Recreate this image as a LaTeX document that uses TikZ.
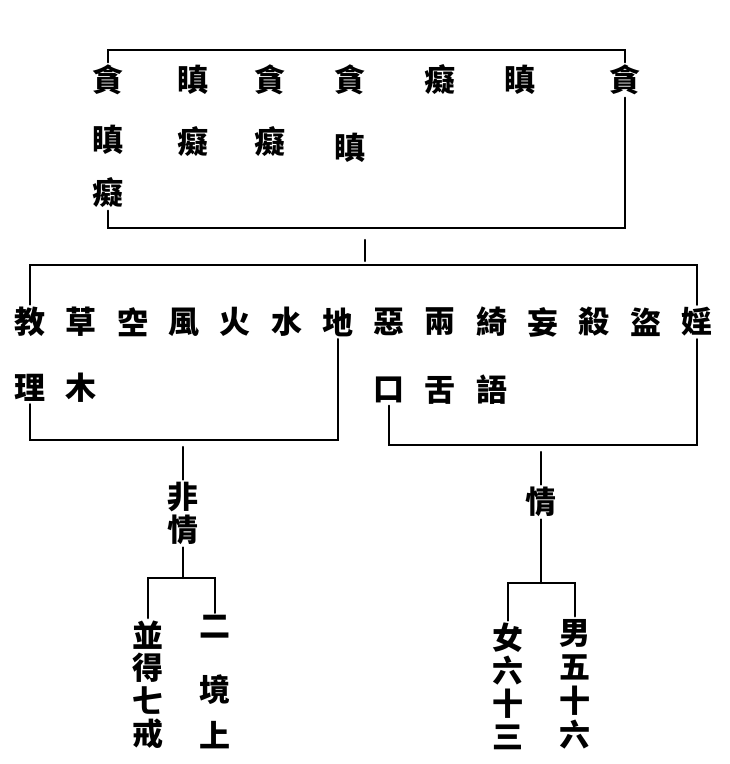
\documentclass[tikz,border=0pt]{standalone}
\usepackage{fontspec}
\newfontfamily\cjk{Noto Sans CJK TC}
\usetikzlibrary{positioning}

\begin{document}
\begin{tikzpicture}[%
        x = 1pt, y = -1pt,
        line width = 2.2pt,
        line cap = round,
        word/.style = {font = \cjk\bfseries\fontsize{31}{31}\selectfont, inner sep = 1.5pt}
    ]
        \useasboundingbox (0, 0) rectangle (730, 764);

        % Heights of the horizontal bars.
        \coordinate (topbar) at (0, 50);
        \coordinate (botbar) at (0, 228);
        \coordinate (midbar) at (0, 265);
        \coordinate (leftbar) at (0, 440);
        \coordinate (rightbar) at (0, 445);
        \coordinate (noubar) at (0, 578);
        \coordinate (usbar) at (0, 583);

        % Top block, the three poisons.
        \node[word] (g1) at (108, 80) {貪};
        \node[word] (g2) at (193, 80) {瞋};
        \node[word] (g3) at (270, 80) {貪};
        \node[word] (g4) at (350, 80) {貪};
        \node[word] (g5) at (440, 80) {癡};
        \node[word] (g6) at (520, 80) {瞋};
        \node[word] (g7) at (625, 80) {貪};
        \node[word] (h1) at (108, 140) {瞋};
        \node[word] (h2) at (193, 142) {癡};
        \node[word] (h3) at (270, 142) {癡};
        \node[word] (h4) at (350, 148) {瞋};
        \node[word] (k1) at (108, 193) {癡};

        \draw (g1.north) -- (g1.north |- topbar) -- (g7.north |- topbar) -- (g7.north);
        \draw (k1.south) -- (k1.south |- botbar) -- (g7.south |- botbar) -- (g7.south);

        % Short stroke between the two blocks.
        \coordinate (tick a) at (365, 240);
        \coordinate (tick b) at (365, 261);
        \draw (tick a) -- (tick b);

        % Middle block, the objects.
        \foreach \ch [count = \i] in {教,草,空,風,火,水,地,惡,兩,綺,妄,殺,盜,婬}
            \node[word] (m\i) at (30 + 51.3*\i - 51.3, 322) {\ch};
        \node[word] (n1) at (30, 388) {理};
        \node[word] (n2) at (81, 388) {木};
        \node[word] (n8) at (389, 390) {口};
        \node[word] (n9) at (440, 390) {舌};
        \node[word] (n10) at (492, 390) {語};

        \draw (m1.north) -- (m1.north |- midbar) -- (m14.north |- midbar) -- (m14.north);
        \draw (n1.south) -- (n1.south |- leftbar) -- (m7.south |- leftbar) -- (m7.south);
        \draw (n8.south) -- (n8.south |- rightbar) -- (m14.south |- rightbar) -- (m14.south);

        % Left branch.
        \node[word] (f1) at (183, 497) {非};
        \node[word] (f2) at (183, 530) {情};
        \foreach \ch [count = \i] in {並,得,七,戒}
            \node[word] (a\i) at (148, 602 + 33*\i) {\ch};
        \node[word] (b1) at (215, 627) {二};
        \node[word] (b2) at (215, 690) {境};
        \node[word] (b3) at (215, 735) {上};

        \draw ([yshift = -7pt] f1.north |- leftbar) -- (f1.north);
        \draw (f2.south) -- (f2.south |- noubar);
        \draw (a1.north) -- (a1.north |- noubar) -- (b1.north |- noubar) -- (b1.north);

        % Right branch.
        \node[word] (q) at (541, 502) {情};
        \foreach \ch [count = \i] in {女,六,十,三}
            \node[word] (w\i) at (508, 605 + 33*\i) {\ch};
        \foreach \ch [count = \i] in {男,五,十,六}
            \node[word] (v\i) at (575, 599 + 34*\i) {\ch};

        \draw ([yshift = -7pt] q.north |- rightbar) -- (q.north);
        \draw (q.south) -- (q.south |- usbar);
        \draw (w1.north) -- (w1.north |- usbar) -- (v1.north |- usbar) -- (v1.north);
    \end{tikzpicture}
\end{document}
